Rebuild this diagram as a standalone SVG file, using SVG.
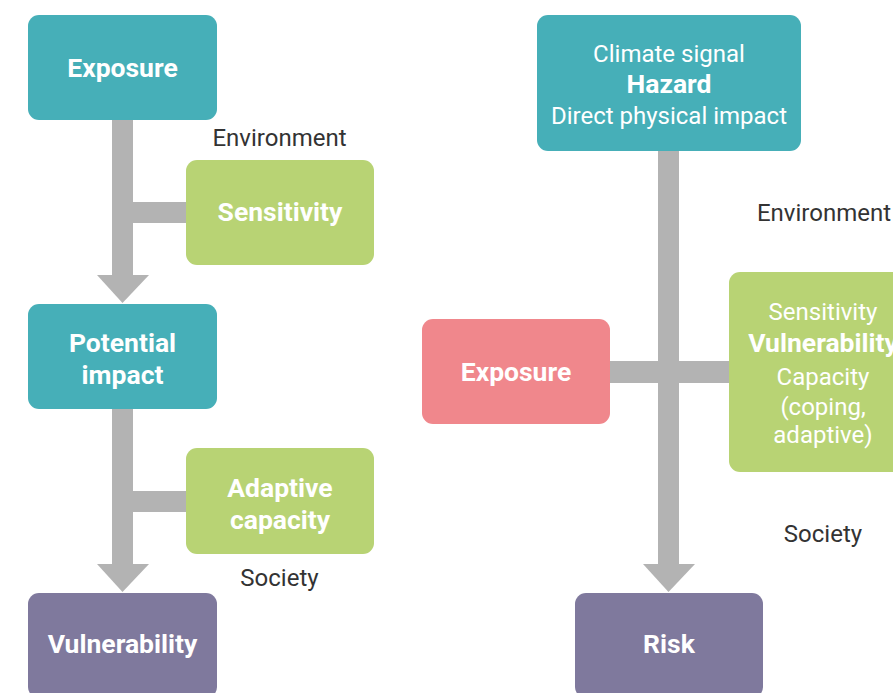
<svg xmlns="http://www.w3.org/2000/svg" width="893" height="693" viewBox="0 0 893 693">
<style>
.teal{fill:#46AFB8}
.green{fill:#B8D374}
.red{fill:#F0878C}
.purple{fill:#7F799D}
.conn{fill:#B3B3B3}
text{font-family:Roboto,"Liberation Sans",sans-serif;font-size:24px;text-anchor:middle}
.w{fill:#FFFFFF}
.b{font-weight:bold;font-size:26.5px}
.lbl{fill:#333333}
</style>
<rect width="893" height="693" fill="#FFFFFF"/>
<g id="connectors">
<rect class="conn" x="112" y="118" width="21" height="158"/>
<polygon class="conn" points="97,275 149,275 122.5,303"/>
<rect class="conn" x="132" y="202" width="55" height="21"/>
<rect class="conn" x="112" y="407" width="21" height="158"/>
<polygon class="conn" points="97,564 149,564 122.5,592"/>
<rect class="conn" x="132" y="491" width="55" height="21"/>
<rect class="conn" x="658" y="149" width="21" height="416"/>
<polygon class="conn" points="643,564 695,564 668.5,592"/>
<rect class="conn" x="608" y="361" width="123" height="22"/>
</g>
<g id="exposure-left">
<rect class="teal" x="28" y="15" width="189" height="105" rx="11"/>
<text class="w b" x="122.5" y="77">Exposure</text>
</g>
<g id="environment-left">
<text class="lbl" x="279.5" y="146">Environment</text>
</g>
<g id="sensitivity-left">
<rect class="green" x="186" y="160" width="188" height="105" rx="11"/>
<text class="w b" x="280" y="221">Sensitivity</text>
</g>
<g id="potential-impact">
<rect class="teal" x="28" y="304" width="189" height="105" rx="11"/>
<text class="w b" x="122.5" y="352">Potential</text>
<text class="w b" x="122.5" y="384">impact</text>
</g>
<g id="adaptive-capacity">
<rect class="green" x="186" y="448" width="188" height="106" rx="11"/>
<text class="w b" x="280" y="497">Adaptive</text>
<text class="w b" x="280" y="529">capacity</text>
</g>
<g id="society-left">
<text class="lbl" x="279.5" y="586">Society</text>
</g>
<g id="vulnerability-left">
<rect class="purple" x="28" y="593" width="189" height="105" rx="11"/>
<text class="w b" x="122.5" y="653">Vulnerability</text>
</g>
<g id="hazard">
<rect class="teal" x="537" y="15" width="264" height="136" rx="11"/>
<text class="w" x="669" y="62">Climate signal</text>
<text class="w b" x="669" y="93">Hazard</text>
<text class="w" x="669" y="124">Direct physical impact</text>
</g>
<g id="environment-right">
<text class="lbl" x="824" y="221">Environment</text>
</g>
<g id="exposure-right">
<rect class="red" x="422" y="319" width="188" height="105" rx="11"/>
<text class="w b" x="516" y="381">Exposure</text>
</g>
<g id="vulnerability-right">
<rect class="green" x="729" y="272" width="188" height="200" rx="11"/>
<text class="w" x="823" y="320">Sensitivity</text>
<text class="w b" x="823" y="352">Vulnerability</text>
<text class="w" x="823" y="385">Capacity</text>
<text class="w" x="823" y="415">(coping,</text>
<text class="w" x="823" y="443">adaptive)</text>
</g>
<g id="society-right">
<text class="lbl" x="823" y="542">Society</text>
</g>
<g id="risk">
<rect class="purple" x="575" y="593" width="188" height="105" rx="11"/>
<text class="w b" x="669" y="653">Risk</text>
</g>
</svg>
